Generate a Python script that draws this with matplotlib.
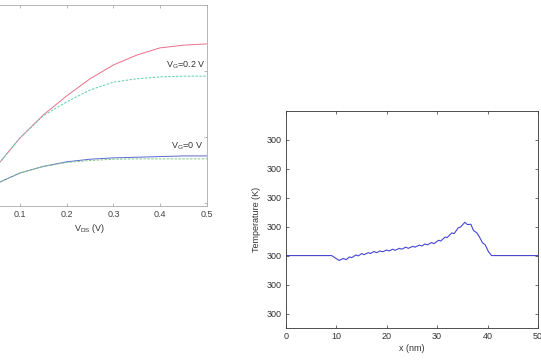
import matplotlib
matplotlib.use('Agg')
import matplotlib.pyplot as plt
from matplotlib.ticker import FormatStrFormatter

plt.rcParams['font.family'] = ['Liberation Sans', 'DejaVu Sans']
plt.rcParams['mathtext.fontset'] = 'custom'
plt.rcParams['mathtext.rm'] = 'Liberation Sans'
plt.rcParams['mathtext.it'] = 'Liberation Sans'

# left panel: drain current vs VDS (arbitrary units, y labels cut off)
vds = [0, 0.05, 0.1, 0.15, 0.2, 0.25, 0.3, 0.35, 0.4, 0.45, 0.5]
id_vg02_solid = [0.0, 0.55, 0.98, 1.33, 1.62, 1.88, 2.09, 2.24, 2.35, 2.39, 2.41]
id_vg02_dash = [0.0, 0.55, 0.98, 1.32, 1.53, 1.71, 1.83, 1.88, 1.91, 1.92, 1.92]
id_vg0_solid = [0.0, 0.29, 0.45, 0.55, 0.62, 0.66, 0.68, 0.69, 0.70, 0.71, 0.71]
id_vg0_dash = [0.0, 0.29, 0.45, 0.55, 0.61, 0.64, 0.66, 0.665, 0.665, 0.665, 0.665]
vds_ticks = [0, 0.1, 0.2, 0.3, 0.4, 0.5]
vds_labels = ['', '0.1', '0.2', '0.3', '0.4', '0.5']

# right panel: temperature profile (offset from 300 K, in tick units)
x_nm = [0, 9.1, 10.6, 11.4, 12.0, 12.6, 13.1, 13.9, 14.4, 15.1, 15.5, 16.4, 16.8,
        17.5, 18.0, 18.7, 19.2, 20.0, 20.5, 21.2, 21.7, 22.5, 23.0, 23.8, 24.3,
        25.2, 25.6, 26.5, 27.0, 27.6, 28.1, 28.9, 29.4, 30.3, 30.7, 31.6, 32.0,
        32.9, 33.4, 34.2, 34.7, 35.5, 36.0, 36.7, 37.2, 37.9, 38.4, 39.0, 39.5,
        40.2, 40.8, 50]
dT = [0, 0, -0.17, -0.10, -0.14, -0.05, -0.07, 0.02, -0.01, 0.07, 0.03, 0.10, 0.07,
      0.14, 0.10, 0.16, 0.13, 0.19, 0.16, 0.22, 0.18, 0.25, 0.22, 0.29, 0.25,
      0.32, 0.29, 0.36, 0.33, 0.40, 0.37, 0.45, 0.41, 0.53, 0.50, 0.64, 0.62,
      0.78, 0.76, 0.96, 0.99, 1.15, 1.07, 1.08, 0.87, 0.78, 0.64, 0.44, 0.38,
      0.13, 0, 0]
temp = [300 + d * 1e-4 for d in dT]
temp_ticks = [300 + k * 1e-4 for k in [-2, -1, 0, 1, 2, 3, 4]]

fig = plt.figure(figsize=(5.41, 3.6), dpi=100)

ax1 = fig.add_axes([-27 / 541, 1 - 206 / 360, 234 / 541, 201 / 360])
ax1.plot(vds, id_vg02_solid, color='#ea7088', lw=0.7)
ax1.plot(vds, id_vg02_dash, color='#5cd0b0', lw=0.7, ls='--', dashes=(2.5, 1.5))
ax1.plot(vds, id_vg0_solid, color='#5a68d4', lw=0.7)
ax1.plot(vds, id_vg0_dash, color='#80c880', lw=0.7, ls='--', dashes=(2.5, 1.5))
ax1.set_xlim(0, 0.5)
ax1.set_ylim(-0.05, 3)
ax1.set_xticks(vds_ticks)
ax1.set_xticklabels(vds_labels)
ax1.set_yticks([0, 1, 2, 3])
ax1.tick_params(direction='in', length=2.5, width=0.5, labelsize=6.5, colors='#999999',
                labelcolor='#444444', top=True, right=True, labelleft=False, pad=3)
for s in ax1.spines.values():
    s.set_color('#aaaaaa')
    s.set_linewidth(0.6)
ax1.set_xlabel('V$_{DS}$ (V)', fontsize=6.5, color='#333333', labelpad=2)
ax1.text(0.413, 2.05, 'V$_G$=0.2 V', fontsize=6.5, color='#333333')
ax1.text(0.423, 0.82, 'V$_G$=0 V', fontsize=6.5, color='#333333')

ax2 = fig.add_axes([285.7 / 541, 1 - 328 / 360, 252.3 / 541, 217.3 / 360])
ax2.plot(x_nm, temp, color='#4646d4', lw=0.8)
ax2.set_xlim(0, 50)
ax2.set_ylim(300 - 2.5e-4, 300 + 5e-4)
ax2.set_xticks([0, 10, 20, 30, 40, 50])
ax2.set_yticks(temp_ticks)
ax2.yaxis.set_major_formatter(FormatStrFormatter('%.0f'))
ax2.tick_params(direction='in', length=2.5, width=0.5, labelsize=6.5, colors='#333333',
                top=True, right=True, pad=3)
for s in ax2.spines.values():
    s.set_color('#333333')
    s.set_linewidth(0.6)
ax2.set_xlabel('x (nm)', fontsize=6.5, color='#333333', labelpad=2)
ax2.set_ylabel('Temperature (K)', fontsize=6.5, color='#333333', labelpad=4)

fig.savefig('out.png', dpi=100)
